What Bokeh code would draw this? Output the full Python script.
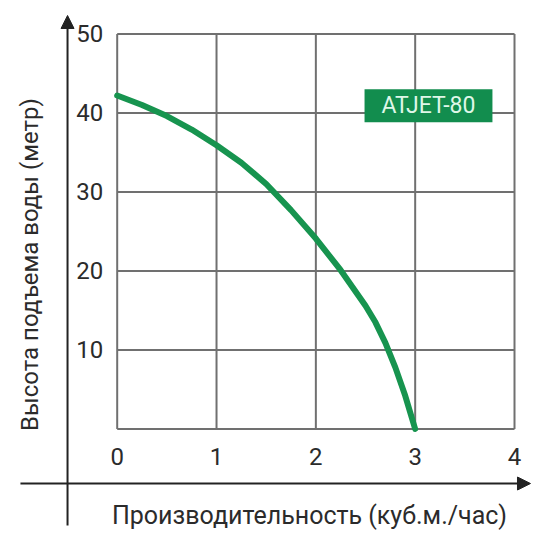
from bokeh.plotting import figure
from bokeh.models import Range1d, Label, Arrow, NormalHead, FixedTicker
from bokeh.embed import file_html
from bokeh.resources import INLINE
import math

# ---- data ----
flow = [0, 0.25, 0.5, 0.75, 1.0, 1.25, 1.5, 1.75, 2.0, 2.25, 2.5, 2.6, 2.7, 2.8, 2.9, 3.0]
head = [42.2, 41.0, 39.6, 37.9, 35.9, 33.7, 31.0, 27.7, 24.1, 20.1, 15.6, 13.5, 10.9, 7.8, 4.2, 0.0]
x_ticks = [0, 1, 2, 3, 4]
y_ticks = [0, 10, 20, 30, 40, 50]
y_labels = [10, 20, 30, 40, 50]
x_title = "Производительность (куб.м./час)"
y_title = "Высота подъема воды (метр)"
model_name = "ATJET-80"

FONT = "Roboto"
GRID = "#707070"
GREEN = "#17944f"
INK = "#2b2b2b"

# frame covers the whole canvas; the chart box is x 0..4, y 0..50
p = figure(width=534, height=534, output_backend="svg", toolbar_location=None,
           x_range=Range1d(-1.1749, 4.2013), y_range=Range1d(-13.351, 54.227),
           min_border=0)
p.background_fill_color = "white"
p.border_fill_color = "white"
p.outline_line_color = None
p.xgrid.visible = False
p.ygrid.visible = False

# grid box drawn from the tick lists
nx, ny = len(x_ticks), len(y_ticks)
p.segment(x0=x_ticks, y0=[y_ticks[0]] * nx, x1=x_ticks, y1=[y_ticks[-1]] * nx,
          line_color=GRID, line_width=2)
p.segment(x0=[x_ticks[0]] * ny, y0=y_ticks, x1=[x_ticks[-1]] * ny, y1=y_ticks,
          line_color=GRID, line_width=2)

# axes pinned to the box edges
xa = p.xaxis[0]
ya = p.yaxis[0]
xa.fixed_location = 0
ya.fixed_location = 0
xa.bounds = (0, 4)
ya.bounds = (0, 50)
xa.ticker = FixedTicker(ticks=x_ticks)
ya.ticker = FixedTicker(ticks=y_labels)
for ax in (xa, ya):
    ax.axis_line_color = None
    ax.major_tick_line_color = None
    ax.minor_tick_line_color = None
    ax.major_label_text_font = FONT
    ax.major_label_text_font_size = "24px"
    ax.major_label_text_color = INK
xa.major_label_standoff = 13
ya.major_label_standoff = 8

# axis titles
p.add_layout(Label(x=1.936, y=-10.95, text=x_title,
                   text_align="center", text_baseline="middle",
                   text_font=FONT, text_font_size="25px", text_color=INK))
p.add_layout(Label(x=-0.873, y=20.82, text=y_title, angle=math.pi / 2,
                   text_align="center", text_baseline="middle",
                   text_font=FONT, text_font_size="24px", text_color=INK))

# curve
p.line(flow, head, line_color=GREEN, line_width=6, line_cap="round", line_join="round")

# model label
p.add_layout(Label(x=3.134, y=40.9, text=model_name,
                   text_align="center", text_baseline="middle",
                   text_font=FONT, text_font_size="23px", text_color="#dff7e8",
                   background_fill_color="#128d4e",
                   padding=(17, 3)))

# outer arrows
p.add_layout(Arrow(x_start=-0.5, y_start=-12.21, x_end=-0.5, y_end=52.33,
                   line_color="#222222", line_width=2,
                   end=NormalHead(size=13, fill_color="#222222", line_color="#222222")))
p.add_layout(Arrow(x_start=-0.974, y_start=-6.9, x_end=4.161, y_end=-6.9,
                   line_color="#222222", line_width=2,
                   end=NormalHead(size=13, fill_color="#222222", line_color="#222222")))

open("out.html", "w").write(file_html(p, INLINE))
